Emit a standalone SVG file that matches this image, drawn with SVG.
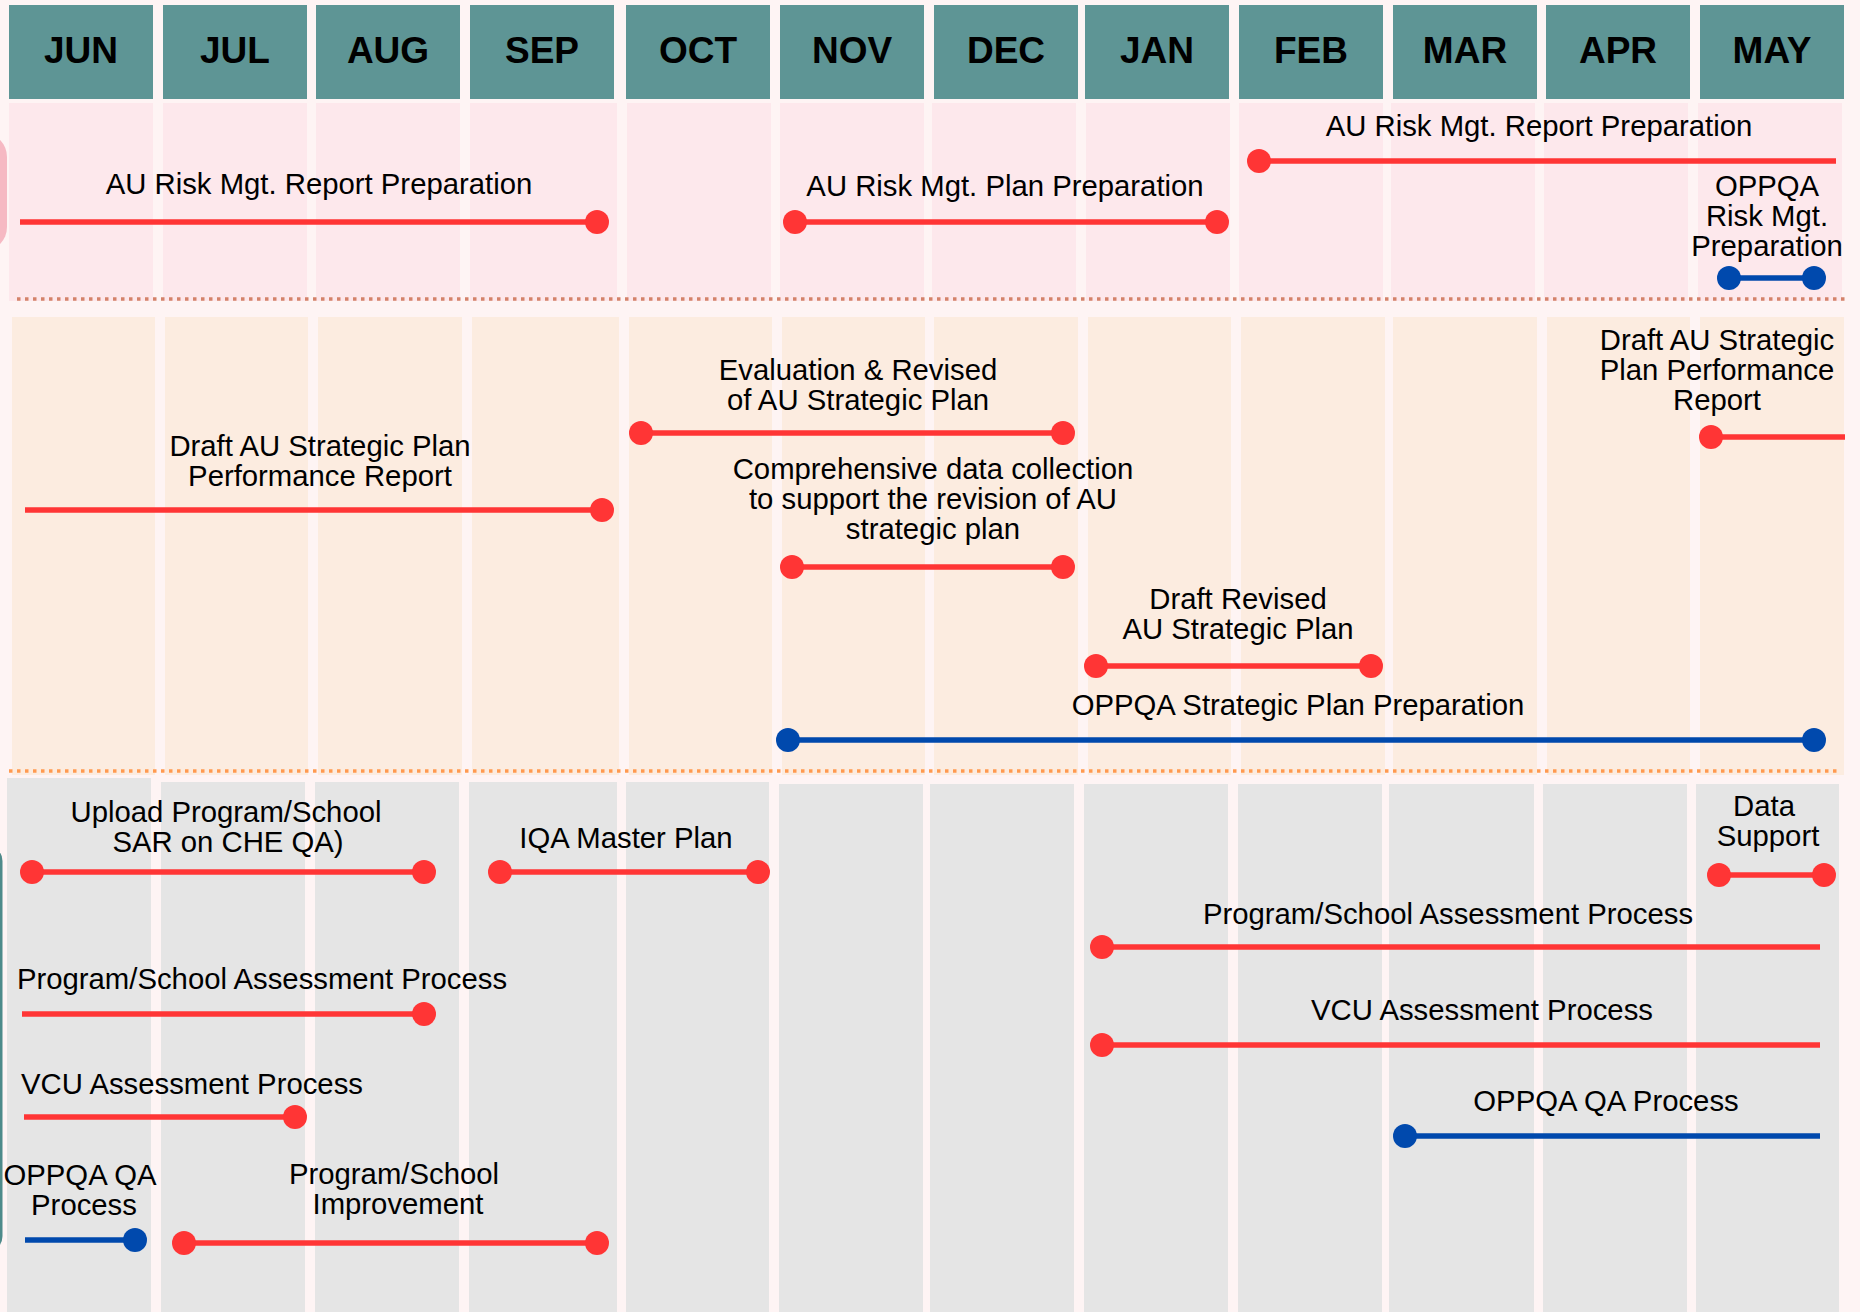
<svg xmlns="http://www.w3.org/2000/svg" width="1860" height="1312" viewBox="0 0 1860 1312">
<defs>
<style>
.bg{fill:#FEF4F4}
.hdr{fill:#5E9595}
.mt{font-family:"Liberation Sans",Arial,sans-serif;font-weight:bold;font-size:37px;fill:#000;text-anchor:middle}
.pk{fill:#FDE8EC}
.pc{fill:#FCECE0}
.gy{fill:#E5E5E5}
.lb{font-family:"Liberation Sans",Arial,sans-serif;font-size:29.3px;fill:#000;text-anchor:middle}
.r{stroke:#FF3535;stroke-width:5.5;fill:none}
.b{stroke:#0049AD;stroke-width:5.5;fill:none}
.rd{fill:#FF3535}
.bd{fill:#0049AD}
.d1{stroke:#D4826A;stroke-width:3.5;stroke-dasharray:3.5 4.5;fill:none}
.d2{stroke:#FF9A50;stroke-width:3.5;stroke-dasharray:3.5 4.5;fill:none}
</style>
</defs>
<rect class="bg" x="0" y="0" width="1860" height="1312"/>

<g id="decor">
<rect x="-40" y="133" width="47" height="118" rx="24" fill="#F6B9C3"/>
<rect x="-30" y="845" width="32.5" height="407" rx="16" fill="#4E8A8A"/>
</g>

<g id="band-risk">
<rect class="pk" x="9" y="103" width="144" height="198"/>
<rect class="pk" x="163" y="103" width="144" height="198"/>
<rect class="pk" x="316" y="103" width="144" height="198"/>
<rect class="pk" x="470" y="103" width="147" height="198"/>
<rect class="pk" x="627" y="103" width="144" height="198"/>
<rect class="pk" x="780" y="103" width="144" height="198"/>
<rect class="pk" x="932" y="103" width="144" height="198"/>
<rect class="pk" x="1086" y="103" width="144" height="198"/>
<rect class="pk" x="1239" y="103" width="144" height="198"/>
<rect class="pk" x="1391" y="103" width="144" height="198"/>
<rect class="pk" x="1544" y="103" width="144" height="198"/>
<rect class="pk" x="1698" y="103" width="144" height="198"/>
</g>

<g id="band-strategic">
<rect class="pc" x="12" y="317" width="143" height="458"/>
<rect class="pc" x="165" y="317" width="143" height="458"/>
<rect class="pc" x="318" y="317" width="144" height="458"/>
<rect class="pc" x="472" y="317" width="147" height="458"/>
<rect class="pc" x="629" y="317" width="143" height="458"/>
<rect class="pc" x="782" y="317" width="143" height="458"/>
<rect class="pc" x="934" y="317" width="144" height="458"/>
<rect class="pc" x="1088" y="317" width="143" height="458"/>
<rect class="pc" x="1241" y="317" width="144" height="458"/>
<rect class="pc" x="1393" y="317" width="144" height="458"/>
<rect class="pc" x="1547" y="317" width="143" height="458"/>
<rect class="pc" x="1700" y="317" width="144" height="458"/>
</g>

<g id="band-qa">
<rect class="gy" x="7" y="778" width="144" height="534"/>
<rect class="gy" x="161" y="782" width="144" height="530"/>
<rect class="gy" x="315" y="782" width="144" height="530"/>
<rect class="gy" x="469" y="782" width="148" height="530"/>
<rect class="gy" x="626" y="782" width="143" height="530"/>
<rect class="gy" x="779" y="784" width="144" height="528"/>
<rect class="gy" x="930" y="784" width="144" height="528"/>
<rect class="gy" x="1084" y="784" width="144" height="528"/>
<rect class="gy" x="1238" y="784" width="144" height="528"/>
<rect class="gy" x="1389" y="784" width="145" height="528"/>
<rect class="gy" x="1543" y="784" width="144" height="528"/>
<rect class="gy" x="1696" y="784" width="143" height="528"/>
</g>

<g id="separators">
<line class="d1" x1="17" y1="299" x2="1845" y2="299"/>
<line class="d2" x1="9" y1="771" x2="1839" y2="771"/>
</g>

<g id="months">
<g id="m-jun"><rect class="hdr" x="9" y="5" width="144" height="94"/><text class="mt" x="81" y="63">JUN</text></g>
<g id="m-jul"><rect class="hdr" x="163" y="5" width="144" height="94"/><text class="mt" x="235" y="63">JUL</text></g>
<g id="m-aug"><rect class="hdr" x="316" y="5" width="144" height="94"/><text class="mt" x="388" y="63">AUG</text></g>
<g id="m-sep"><rect class="hdr" x="470" y="5" width="144" height="94"/><text class="mt" x="542" y="63">SEP</text></g>
<g id="m-oct"><rect class="hdr" x="626" y="5" width="144" height="94"/><text class="mt" x="698" y="63">OCT</text></g>
<g id="m-nov"><rect class="hdr" x="780" y="5" width="144" height="94"/><text class="mt" x="852" y="63">NOV</text></g>
<g id="m-dec"><rect class="hdr" x="934" y="5" width="144" height="94"/><text class="mt" x="1006" y="63">DEC</text></g>
<g id="m-jan"><rect class="hdr" x="1085" y="5" width="144" height="94"/><text class="mt" x="1157" y="63">JAN</text></g>
<g id="m-feb"><rect class="hdr" x="1239" y="5" width="144" height="94"/><text class="mt" x="1311" y="63">FEB</text></g>
<g id="m-mar"><rect class="hdr" x="1393" y="5" width="144" height="94"/><text class="mt" x="1465" y="63">MAR</text></g>
<g id="m-apr"><rect class="hdr" x="1546" y="5" width="144" height="94"/><text class="mt" x="1618" y="63">APR</text></g>
<g id="m-may"><rect class="hdr" x="1700" y="5" width="144" height="94"/><text class="mt" x="1772" y="63">MAY</text></g>
</g>

<g id="task-labels">
<g id="t1"><text class="lb" x="319" y="194">AU Risk Mgt. Report Preparation</text></g>
<g id="t2"><text class="lb" x="1005" y="196">AU Risk Mgt. Plan Preparation</text></g>
<g id="t3"><text class="lb" x="1539" y="136">AU Risk Mgt. Report Preparation</text></g>
<g id="t4"><text class="lb" x="1767" y="196">OPPQA</text><text class="lb" x="1767" y="226">Risk Mgt.</text><text class="lb" x="1767" y="256">Preparation</text></g>
<g id="t5"><text class="lb" x="320" y="456">Draft AU Strategic Plan</text><text class="lb" x="320" y="486">Performance Report</text></g>
<g id="t6"><text class="lb" x="858" y="380">Evaluation &amp; Revised</text><text class="lb" x="858" y="410">of AU Strategic Plan</text></g>
<g id="t7"><text class="lb" x="933" y="479">Comprehensive data collection</text><text class="lb" x="933" y="509">to support the revision of AU</text><text class="lb" x="933" y="539">strategic plan</text></g>
<g id="t8"><text class="lb" x="1238" y="609">Draft Revised</text><text class="lb" x="1238" y="639">AU Strategic Plan</text></g>
<g id="t9"><text class="lb" x="1298" y="715">OPPQA Strategic Plan Preparation</text></g>
<g id="t10"><text class="lb" x="1717" y="350">Draft AU Strategic</text><text class="lb" x="1717" y="380">Plan Performance</text><text class="lb" x="1717" y="410">Report</text></g>
<g id="t11"><text class="lb" x="226" y="822">Upload Program/School</text><text class="lb" x="228" y="852">SAR on CHE QA)</text></g>
<g id="t12"><text class="lb" x="626" y="848">IQA Master Plan</text></g>
<g id="t13"><text class="lb" x="262" y="989">Program/School Assessment Process</text></g>
<g id="t14"><text class="lb" x="192" y="1094">VCU Assessment Process</text></g>
<g id="t15"><text class="lb" x="80" y="1185">OPPQA QA</text><text class="lb" x="84" y="1215">Process</text></g>
<g id="t16"><text class="lb" x="394" y="1184">Program/School</text><text class="lb" x="398" y="1214">Improvement</text></g>
<g id="t17"><text class="lb" x="1764" y="816">Data</text><text class="lb" x="1768" y="846">Support</text></g>
<g id="t18"><text class="lb" x="1448" y="924">Program/School Assessment Process</text></g>
<g id="t19"><text class="lb" x="1482" y="1020">VCU Assessment Process</text></g>
<g id="t20"><text class="lb" x="1606" y="1111">OPPQA QA Process</text></g>
</g>

<g id="connectors">
<line class="r" x1="20" y1="222" x2="597" y2="222"/><circle class="rd" cx="597" cy="222" r="12"/>
<line class="r" x1="795" y1="222" x2="1217" y2="222"/><circle class="rd" cx="795" cy="222" r="12"/><circle class="rd" cx="1217" cy="222" r="12"/>
<line class="r" x1="1259" y1="161" x2="1836" y2="161"/><circle class="rd" cx="1259" cy="161" r="12"/>
<line class="b" x1="1729" y1="278" x2="1814" y2="278"/><circle class="bd" cx="1729" cy="278" r="12"/><circle class="bd" cx="1814" cy="278" r="12"/>

<line class="r" x1="25" y1="510" x2="602" y2="510"/><circle class="rd" cx="602" cy="510" r="12"/>
<line class="r" x1="641" y1="433" x2="1063" y2="433"/><circle class="rd" cx="641" cy="433" r="12"/><circle class="rd" cx="1063" cy="433" r="12"/>
<line class="r" x1="792" y1="567" x2="1063" y2="567"/><circle class="rd" cx="792" cy="567" r="12"/><circle class="rd" cx="1063" cy="567" r="12"/>
<line class="r" x1="1096" y1="666" x2="1371" y2="666"/><circle class="rd" cx="1096" cy="666" r="12"/><circle class="rd" cx="1371" cy="666" r="12"/>
<line class="b" x1="788" y1="740" x2="1814" y2="740"/><circle class="bd" cx="788" cy="740" r="12"/><circle class="bd" cx="1814" cy="740" r="12"/>
<line class="r" x1="1711" y1="437" x2="1845" y2="437"/><circle class="rd" cx="1711" cy="437" r="12"/>

<line class="r" x1="32" y1="872" x2="424" y2="872"/><circle class="rd" cx="32" cy="872" r="12"/><circle class="rd" cx="424" cy="872" r="12"/>
<line class="r" x1="500" y1="872" x2="758" y2="872"/><circle class="rd" cx="500" cy="872" r="12"/><circle class="rd" cx="758" cy="872" r="12"/>
<line class="r" x1="22" y1="1014" x2="424" y2="1014"/><circle class="rd" cx="424" cy="1014" r="12"/>
<line class="r" x1="24" y1="1117" x2="295" y2="1117"/><circle class="rd" cx="295" cy="1117" r="12"/>
<line class="b" x1="25" y1="1240" x2="135" y2="1240"/><circle class="bd" cx="135" cy="1240" r="12"/>
<line class="r" x1="184" y1="1243" x2="597" y2="1243"/><circle class="rd" cx="184" cy="1243" r="12"/><circle class="rd" cx="597" cy="1243" r="12"/>
<line class="r" x1="1719" y1="875" x2="1824" y2="875"/><circle class="rd" cx="1719" cy="875" r="12"/><circle class="rd" cx="1824" cy="875" r="12"/>
<line class="r" x1="1102" y1="947" x2="1820" y2="947"/><circle class="rd" cx="1102" cy="947" r="12"/>
<line class="r" x1="1102" y1="1045" x2="1820" y2="1045"/><circle class="rd" cx="1102" cy="1045" r="12"/>
<line class="b" x1="1405" y1="1136" x2="1820" y2="1136"/><circle class="bd" cx="1405" cy="1136" r="12"/>
</g>
</svg>
